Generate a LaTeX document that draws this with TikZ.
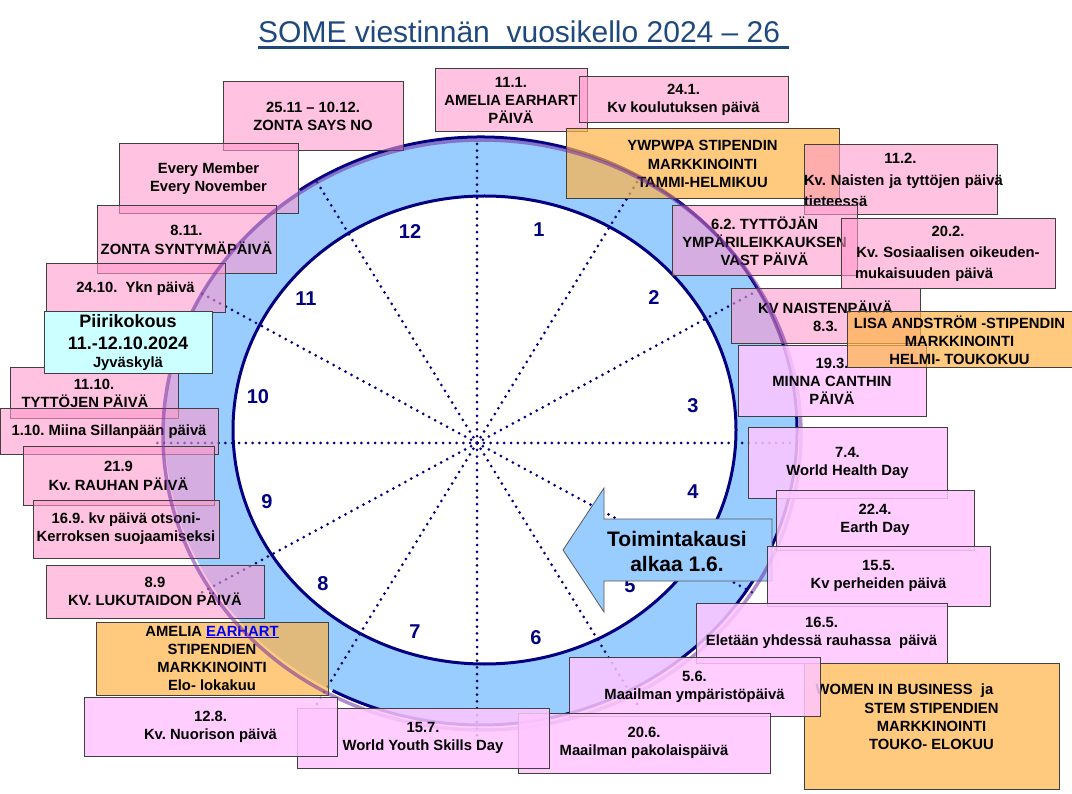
\documentclass[tikz,border=0pt]{standalone}
\usepackage{fontspec}
\setmainfont{Liberation Sans}
\frenchspacing

\definecolor{ringblue}{HTML}{99CCFF}
\definecolor{clocknavy}{HTML}{000080}
\definecolor{titleblue}{HTML}{1F497D}
\definecolor{boxpink}{HTML}{FF99CC}
\definecolor{boxlilac}{HTML}{FFC6FF}
\definecolor{boxorange}{HTML}{FFB347}
\definecolor{boxcyan}{HTML}{CCFFFF}
\definecolor{ringpurple}{HTML}{7030A0}
\definecolor{linkblue}{HTML}{0000FF}

\tikzset{
    box/.style 2 args={draw=black!75, line width=1pt, minimum width=#1pt, minimum height=#2pt,
        inner sep=0pt, align=center, text opacity=1,
        font=\bfseries\fontsize{14.8}{18.2}\selectfont},
    pinkbox/.style 2 args={box={#1}{#2}, fill=boxpink, fill opacity=0.6},
    lilacbox/.style 2 args={box={#1}{#2}, fill=boxlilac, fill opacity=0.85},
    orangebox/.style 2 args={box={#1}{#2}, fill=boxorange, fill opacity=0.7},
    spoke/.style={clocknavy, line width=3pt, dash pattern=on 0pt off 6.8pt, line cap=round},
    hour/.style={text=clocknavy, font=\bfseries\fontsize{20}{24}\selectfont},
    title/.style={text=titleblue, inner sep=0pt, font=\fontsize{30}{36}\selectfont},
}

\begin{document}
\begin{tikzpicture}[x=1pt, y=-1pt]
    \useasboundingbox (0,0) rectangle (1072,794);

    \node[title, anchor=base west] (T) at (258,43) {SOME viestinnän\ \ vuosikello 2024 – 26};
    \draw[titleblue, line width=3pt] ([yshift=-5pt]T.base west) -- ([xshift=9pt, yshift=-5pt]T.base east);

    \fill[ringblue] (481,431) ellipse [x radius=316, y radius=294];
    \draw[clocknavy, line width=3pt, fill=white] (484.5,430) ellipse [x radius=251.5, y radius=234];
    \draw[clocknavy, line width=3pt] (481,431) ++(-125:316 and 294)
        arc [start angle=-125, end angle=118, x radius=316, y radius=294];

    \coordinate (O) at (477,443);
    \foreach \a in {0,30,...,330}
        \draw[spoke] (O) -- ++(\a:322 and 303);

    \foreach \n/\x/\y in {12/410/232, 1/539/230, 2/654/298, 3/693/406, 4/693/492, 5/630/586,
                          6/536/638, 7/415/632, 8/323/584, 9/267/502, 10/258/397, 11/306/299}
        \node[hour] (N\n) at (\x,\y) {\n};

    \draw[fill=ringblue, draw=black!65, line width=0.8pt] (563,550) -- (604,488) -- (604,519) -- (772,519)
        -- (772,581) -- (604,581) -- (604,612) -- cycle;
    \node[align=center, font=\bfseries\fontsize{21}{25}\selectfont] (A) at (677,551) {Toimintakausi\\alkaa 1.6.};

    \node[pinkbox={180}{69}] (B1) at (313,116.5) {25.11 – 10.12.\\ZONTA SAYS NO};
    \node[pinkbox={179}{70}] (B2) at (208.5,179) {Every Member\\Every November};
    \node[pinkbox={179}{68}] (B3) at (186.5,240) {8.11.\\ZONTA SYNTYMÄPÄIVÄ};
    \node[pinkbox={179}{49}] (B4) at (135.5,288.5) {24.10.\ \ Ykn päivä};
    \node[pinkbox={168}{51}] (B6) at (94,393.5) {11.10.\\TYTTÖJEN PÄIVÄ\hspace{18pt}\mbox{}};
    \node[pinkbox={218}{46}] (B7) at (109,432) {1.10. Miina Sillanpään päivä};
    \node[pinkbox={191}{58}] (B8) at (118.5,476) {21.9\\Kv. RAUHAN PÄIVÄ};
    \node[pinkbox={186}{58}] (B9) at (126,529) {16.9. kv päivä otsoni-\\Kerroksen suojaamiseksi};
    \node[pinkbox={218}{53}] (B10) at (155,591.5) {8.9\\KV. LUKUTAIDON PÄIVÄ};
    \node[orangebox={232}{73}] (B11) at (212,658.5)
        {AMELIA \textcolor{linkblue}{\underline{EARHART}}\\STIPENDIEN\\MARKKINOINTI\\Elo- lokakuu};
    \node[pinkbox={152}{63}] (B12) at (511,100.5) {11.1.\\AMELIA EARHART\\PÄIVÄ};
    \node[pinkbox={209}{46}] (B13) at (683.5,100) {24.1.\\Kv koulutuksen päivä};
    \node[orangebox={273}{70}] (B14) at (702.5,164) {YWPWPA STIPENDIN\\MARKKINOINTI\\TAMMI-HELMIKUU};
    \node[pinkbox={193}{70}, text width=193pt, font=\bfseries\fontsize{14.8}{21.5}\selectfont] (B15) at (900.5,180)
        {11.2.\\\mbox{Kv. Naisten ja tyttöjen päivä}\\tieteessä\hfill\mbox{}};
    \node[pinkbox={185}{70}] (B16) at (764.5,241) {6.2. TYTTÖJÄN\\YMPÄRILEIKKAUKSEN\\VAST PÄIVÄ};
    \node[pinkbox={214}{70}, text width=186pt, font=\bfseries\fontsize{14.8}{21}\selectfont] (B17) at (948,254)
        {20.2.\\\mbox{Kv. Sosiaalisen oikeuden-}\\mukaisuuden päivä\hfill\mbox{}};
    \node[pinkbox={189}{55}] (B18) at (825.5,316.5) {KV NAISTENPÄIVÄ\\8.3.};

    \draw[ringpurple, line width=3.5pt, opacity=0.55] (482,435) ellipse [x radius=319, y radius=295];

    \node[box={168}{62}, fill=boxcyan, font=\bfseries\fontsize{18}{22}\selectfont] (B5) at (128,343)
        {Piirikokous\\11.-12.10.2024\\[-4pt]{\fontsize{14.8}{18}\selectfont Jyväskylä}};
    \node[lilacbox={188}{71}] (B19) at (832,381.5) {19.3.\\MINNA CANTHIN\\PÄIVÄ};
    \node[orangebox={225}{56}] (B20) at (959.5,340) {LISA ANDSTRÖM -STIPENDIN\\MARKKINOINTI\\HELMI- TOUKOKUU};
    \node[lilacbox={199}{70}] (B21) at (847.5,463) {7.4.\\World Health Day};
    \node[lilacbox={198}{60}] (B22) at (875,520) {22.4.\\Earth Day};
    \node[lilacbox={223}{60}] (B23) at (878.5,576) {15.5.\\Kv perheiden päivä};
    \node[lilacbox={251}{60}] (B24) at (821.5,633) {16.5.\\Eletään yhdessä rauhassa\ \ päivä};
    \node[orangebox={255}{126}] (B25) at (931.5,726)
        {WOMEN IN BUSINESS\ \ ja\hspace{54pt}\mbox{}\\STEM STIPENDIEN\\MARKKINOINTI\\TOUKO- ELOKUU\\\mbox{}};
    \node[lilacbox={251}{59}] (B26) at (694.5,686.5) {5.6.\\Maailman ympäristöpäivä};
    \node[lilacbox={252}{60}] (B27) at (644,743) {20.6.\\Maailman pakolaispäivä};
    \node[lilacbox={252}{60}] (B28) at (423,738) {15.7.\\World Youth Skills Day};
    \node[lilacbox={253}{59}] (B29) at (210.5,726.5) {12.8.\\Kv. Nuorison päivä};

\end{tikzpicture}
\end{document}
